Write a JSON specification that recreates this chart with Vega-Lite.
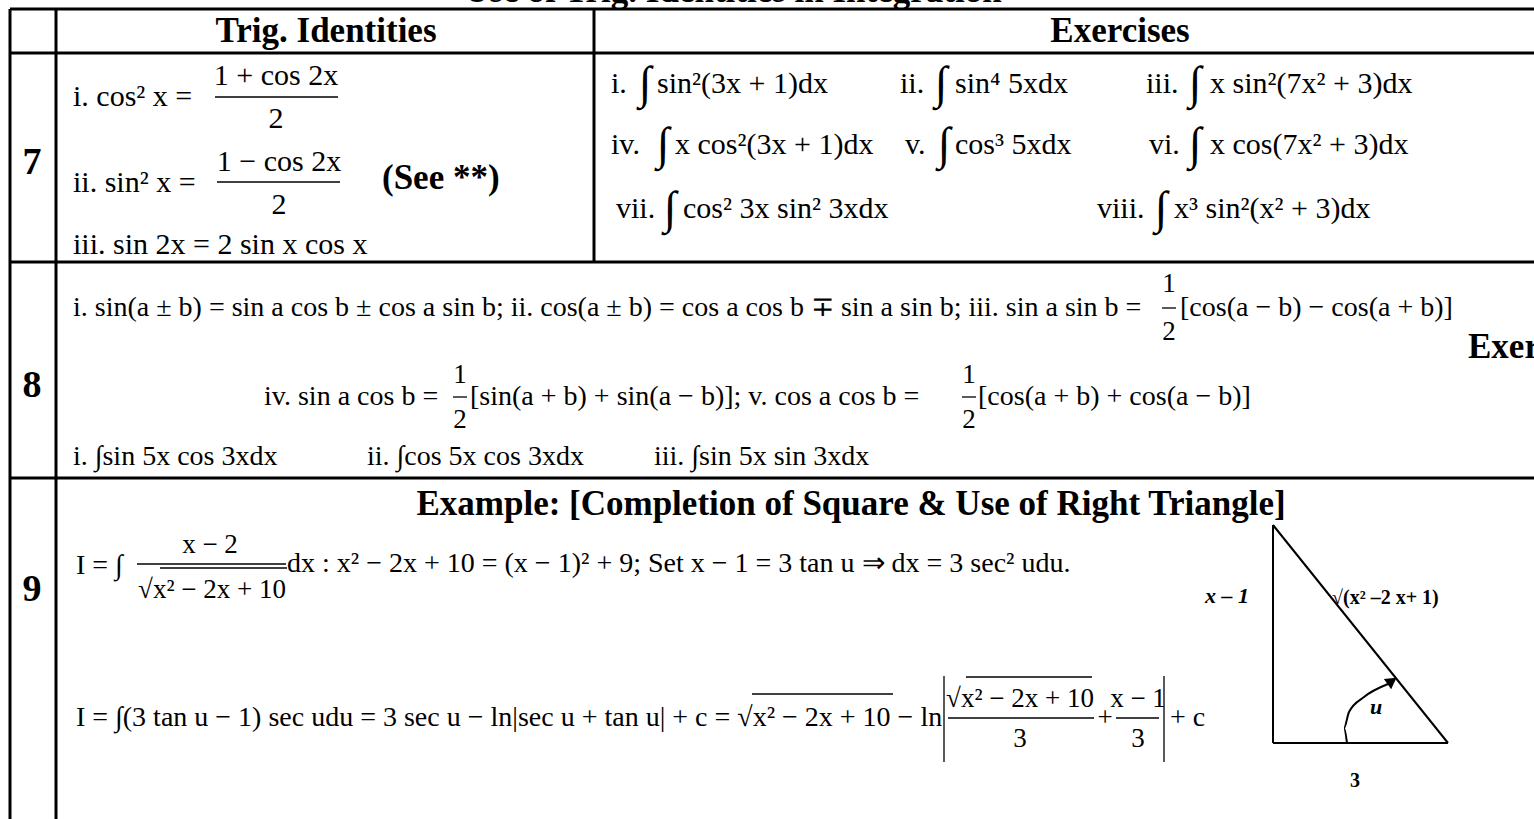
{
  "$schema": "https://vega.github.io/schema/vega-lite/v6.json",
  "width": 1534,
  "height": 819,
  "autosize": {"type": "none"},
  "padding": 0,
  "background": "white",
  "config": {"view": {"stroke": null}},
  "datasets": {
    "lines": [
      {"x": 10, "y": 9, "x2": 1534, "y2": 9, "k": "table"},
      {"x": 10, "y": 53, "x2": 1534, "y2": 53, "k": "table"},
      {"x": 10, "y": 262, "x2": 1534, "y2": 262, "k": "table"},
      {"x": 10, "y": 478, "x2": 1534, "y2": 478, "k": "table"},
      {"x": 10, "y": 9, "x2": 10, "y2": 819, "k": "table"},
      {"x": 56, "y": 9, "x2": 56, "y2": 819, "k": "table"},
      {"x": 594, "y": 9, "x2": 594, "y2": 262, "k": "table"},
      {"x": 215, "y": 97, "x2": 338, "y2": 97, "k": "bar"},
      {"x": 217, "y": 182, "x2": 340, "y2": 182, "k": "bar"},
      {"x": 1162, "y": 308, "x2": 1176, "y2": 308, "k": "bar"},
      {"x": 453, "y": 397, "x2": 467, "y2": 397, "k": "bar"},
      {"x": 962, "y": 397, "x2": 976, "y2": 397, "k": "bar"},
      {"x": 137, "y": 564, "x2": 286, "y2": 564, "k": "bar"},
      {"x": 160, "y": 568, "x2": 287, "y2": 568, "k": "bar"},
      {"x": 752, "y": 694, "x2": 893, "y2": 694, "k": "bar"},
      {"x": 948, "y": 718, "x2": 1094, "y2": 718, "k": "bar"},
      {"x": 966, "y": 677, "x2": 1092, "y2": 677, "k": "bar"},
      {"x": 1116, "y": 718, "x2": 1159, "y2": 718, "k": "bar"},
      {"x": 944, "y": 676, "x2": 944, "y2": 762, "k": "bar"},
      {"x": 1164, "y": 676, "x2": 1164, "y2": 762, "k": "bar"},
      {"x": 1273, "y": 525, "x2": 1273, "y2": 743, "k": "tri"},
      {"x": 1273, "y": 743, "x2": 1448, "y2": 743, "k": "tri"},
      {"x": 1273, "y": 525, "x2": 1448, "y2": 743, "k": "tri"}
    ],
    "arc": [
      {"i": 1, "x": 1347, "y": 743},
      {"i": 2, "x": 1344, "y": 728},
      {"i": 3, "x": 1349, "y": 712},
      {"i": 4, "x": 1364, "y": 697},
      {"i": 5, "x": 1388, "y": 684}
    ],
    "arrow": [{"x": 1392, "y": 681}],
    "texts": [
      {"t": "Use of Trig. Identities in Integration", "x": 733, "y": -9, "k": "head"},
      {"t": "Trig. Identities", "x": 326, "y": 31, "k": "head"},
      {"t": "Exercises", "x": 1120, "y": 31, "k": "head"},
      {"t": "Example: [Completion of Square & Use of Right Triangle]", "x": 851, "y": 504, "k": "head"},
      {"t": "7", "x": 32, "y": 163, "k": "num"},
      {"t": "8", "x": 32, "y": 386, "k": "num"},
      {"t": "9", "x": 32, "y": 590, "k": "num"},
      {"t": "(See **)", "x": 382, "y": 178, "k": "see"},
      {"t": "Exercises", "x": 1468, "y": 347, "k": "see"},
      {"t": "i.  cos² x  =", "x": 73, "y": 97, "k": "f"},
      {"t": "1 + cos 2x", "x": 276, "y": 76, "k": "fc"},
      {"t": "2", "x": 276, "y": 119, "k": "fc"},
      {"t": "ii.  sin² x  =", "x": 73, "y": 183, "k": "f"},
      {"t": "1 − cos 2x", "x": 279, "y": 162, "k": "fc"},
      {"t": "2", "x": 279, "y": 205, "k": "fc"},
      {"t": "iii.  sin 2x = 2 sin x cos x", "x": 73, "y": 245, "k": "f"},
      {"t": "i.", "x": 611, "y": 84, "k": "f"},
      {"t": "∫", "x": 645, "y": 84, "k": "int"},
      {"t": "sin²(3x + 1)dx", "x": 657, "y": 84, "k": "f"},
      {"t": "ii.", "x": 900, "y": 84, "k": "f"},
      {"t": "∫", "x": 941, "y": 84, "k": "int"},
      {"t": "sin⁴ 5xdx", "x": 955, "y": 84, "k": "f"},
      {"t": "iii.", "x": 1146, "y": 84, "k": "f"},
      {"t": "∫", "x": 1195, "y": 84, "k": "int"},
      {"t": "x sin²(7x² + 3)dx", "x": 1210, "y": 84, "k": "f"},
      {"t": "iv.", "x": 611, "y": 145, "k": "f"},
      {"t": "∫", "x": 663, "y": 145, "k": "int"},
      {"t": "x cos²(3x + 1)dx", "x": 675, "y": 145, "k": "f"},
      {"t": "v.", "x": 905, "y": 145, "k": "f"},
      {"t": "∫", "x": 944, "y": 145, "k": "int"},
      {"t": "cos³ 5xdx", "x": 955, "y": 145, "k": "f"},
      {"t": "vi.", "x": 1149, "y": 145, "k": "f"},
      {"t": "∫", "x": 1195, "y": 145, "k": "int"},
      {"t": "x cos(7x² + 3)dx", "x": 1210, "y": 145, "k": "f"},
      {"t": "vii.", "x": 616, "y": 209, "k": "f"},
      {"t": "∫", "x": 670, "y": 209, "k": "int"},
      {"t": "cos² 3x sin² 3xdx", "x": 683, "y": 209, "k": "f"},
      {"t": "viii.", "x": 1097, "y": 209, "k": "f"},
      {"t": "∫", "x": 1161, "y": 209, "k": "int"},
      {"t": "x³ sin²(x² + 3)dx", "x": 1174, "y": 209, "k": "f"},
      {"t": "i.  sin(a ± b) = sin a cos b ± cos a sin b; ii. cos(a ± b) = cos a cos b ∓ sin a sin b; iii. sin a sin b =", "x": 73, "y": 308, "k": "g"},
      {"t": "1", "x": 1169, "y": 284, "k": "gc"},
      {"t": "2", "x": 1169, "y": 332, "k": "gc"},
      {"t": "[cos(a − b) − cos(a + b)]", "x": 1180, "y": 308, "k": "g"},
      {"t": "iv.  sin a cos b =", "x": 264, "y": 397, "k": "g"},
      {"t": "1", "x": 460, "y": 375, "k": "gc"},
      {"t": "2", "x": 460, "y": 420, "k": "gc"},
      {"t": "[sin(a + b) + sin(a − b)];  v.  cos a cos b =", "x": 470, "y": 397, "k": "g"},
      {"t": "1", "x": 969, "y": 375, "k": "gc"},
      {"t": "2", "x": 969, "y": 420, "k": "gc"},
      {"t": "[cos(a + b) + cos(a − b)]", "x": 978, "y": 397, "k": "g"},
      {"t": "i. ∫sin 5x cos 3xdx", "x": 73, "y": 457, "k": "g"},
      {"t": "ii. ∫cos 5x cos 3xdx", "x": 367, "y": 457, "k": "g"},
      {"t": "iii. ∫sin 5x sin 3xdx", "x": 654, "y": 457, "k": "g"},
      {"t": "I = ∫", "x": 76, "y": 566, "k": "g"},
      {"t": "x − 2", "x": 210, "y": 545, "k": "gc"},
      {"t": "√x² − 2x + 10", "x": 212, "y": 590, "k": "gc"},
      {"t": "dx : x² − 2x + 10 = (x − 1)² + 9; Set x − 1 = 3 tan u ⇒ dx = 3 sec² udu.", "x": 287, "y": 564, "k": "g"},
      {"t": "I = ∫(3 tan u − 1) sec udu = 3 sec u − ln|sec u + tan u| + c = √x² − 2x + 10 − ln", "x": 76, "y": 718, "k": "g"},
      {"t": "√x² − 2x + 10", "x": 1020, "y": 699, "k": "gc"},
      {"t": "3", "x": 1020, "y": 739, "k": "gc"},
      {"t": "+", "x": 1105, "y": 718, "k": "gc"},
      {"t": "x − 1", "x": 1138, "y": 699, "k": "gc"},
      {"t": "3", "x": 1138, "y": 739, "k": "gc"},
      {"t": "+ c", "x": 1170, "y": 718, "k": "g"},
      {"t": "x – 1", "x": 1227, "y": 596, "k": "tl"},
      {"t": "√(x² –2 x+ 1)", "x": 1332, "y": 598, "k": "tb"},
      {"t": "u", "x": 1376, "y": 707, "k": "tl"},
      {"t": "3", "x": 1355, "y": 781, "k": "tc"}
    ]
  },
  "encoding": {
    "x": {"field": "x", "type": "quantitative", "axis": null, "scale": {"domain": [0, 1534], "range": [0, 1534], "zero": false, "nice": false}},
    "y": {"field": "y", "type": "quantitative", "axis": null, "scale": {"domain": [0, 819], "range": [0, 819], "zero": false, "nice": false}}
  },
  "layer": [
    {
      "data": {"name": "lines"},
      "transform": [{"filter": "datum.k === 'table'"}],
      "mark": {"type": "rule", "color": "black", "strokeWidth": 3},
      "encoding": {"x2": {"field": "x2"}, "y2": {"field": "y2"}}
    },
    {
      "data": {"name": "lines"},
      "transform": [{"filter": "datum.k === 'bar'"}],
      "mark": {"type": "rule", "color": "black", "strokeWidth": 1.3},
      "encoding": {"x2": {"field": "x2"}, "y2": {"field": "y2"}}
    },
    {
      "data": {"name": "lines"},
      "transform": [{"filter": "datum.k === 'tri'"}],
      "mark": {"type": "rule", "color": "black", "strokeWidth": 2},
      "encoding": {"x2": {"field": "x2"}, "y2": {"field": "y2"}}
    },
    {
      "data": {"name": "arc"},
      "mark": {"type": "line", "color": "black", "strokeWidth": 2, "interpolate": "monotone"},
      "encoding": {"order": {"field": "i", "type": "quantitative"}}
    },
    {
      "data": {"name": "arrow"},
      "mark": {"type": "point", "shape": "triangle-right", "filled": true, "color": "black", "opacity": 1, "size": 160, "angle": -35}
    },
    {
      "data": {"name": "texts"},
      "transform": [{"filter": "datum.k === 'head'"}],
      "mark": {"type": "text", "font": "Liberation Serif", "fontWeight": "bold", "fontSize": 35, "align": "center", "baseline": "middle", "color": "black"},
      "encoding": {"text": {"field": "t"}}
    },
    {
      "data": {"name": "texts"},
      "transform": [{"filter": "datum.k === 'num'"}],
      "mark": {"type": "text", "font": "Liberation Serif", "fontWeight": "bold", "fontSize": 38, "align": "center", "baseline": "middle", "color": "black"},
      "encoding": {"text": {"field": "t"}}
    },
    {
      "data": {"name": "texts"},
      "transform": [{"filter": "datum.k === 'see'"}],
      "mark": {"type": "text", "font": "Liberation Serif", "fontWeight": "bold", "fontSize": 35, "align": "left", "baseline": "middle", "color": "black"},
      "encoding": {"text": {"field": "t"}}
    },
    {
      "data": {"name": "texts"},
      "transform": [{"filter": "datum.k === 'f'"}],
      "mark": {"type": "text", "font": "Liberation Serif", "fontSize": 30, "align": "left", "baseline": "middle", "color": "black"},
      "encoding": {"text": {"field": "t"}}
    },
    {
      "data": {"name": "texts"},
      "transform": [{"filter": "datum.k === 'fc'"}],
      "mark": {"type": "text", "font": "Liberation Serif", "fontSize": 30, "align": "center", "baseline": "middle", "color": "black"},
      "encoding": {"text": {"field": "t"}}
    },
    {
      "data": {"name": "texts"},
      "transform": [{"filter": "datum.k === 'int'"}],
      "mark": {"type": "text", "font": "Liberation Serif", "fontSize": 46, "align": "center", "baseline": "middle", "color": "black"},
      "encoding": {"text": {"field": "t"}}
    },
    {
      "data": {"name": "texts"},
      "transform": [{"filter": "datum.k === 'g'"}],
      "mark": {"type": "text", "font": "Liberation Serif", "fontSize": 28, "align": "left", "baseline": "middle", "color": "black"},
      "encoding": {"text": {"field": "t"}}
    },
    {
      "data": {"name": "texts"},
      "transform": [{"filter": "datum.k === 'gc'"}],
      "mark": {"type": "text", "font": "Liberation Serif", "fontSize": 27, "align": "center", "baseline": "middle", "color": "black"},
      "encoding": {"text": {"field": "t"}}
    },
    {
      "data": {"name": "texts"},
      "transform": [{"filter": "datum.k === 'tl'"}],
      "mark": {"type": "text", "font": "Liberation Serif", "fontWeight": "bold", "fontStyle": "italic", "fontSize": 22, "align": "center", "baseline": "middle", "color": "black"},
      "encoding": {"text": {"field": "t"}}
    },
    {
      "data": {"name": "texts"},
      "transform": [{"filter": "datum.k === 'tb'"}],
      "mark": {"type": "text", "font": "Liberation Serif", "fontWeight": "bold", "fontSize": 20, "align": "left", "baseline": "middle", "color": "black"},
      "encoding": {"text": {"field": "t"}}
    },
    {
      "data": {"name": "texts"},
      "transform": [{"filter": "datum.k === 'tc'"}],
      "mark": {"type": "text", "font": "Liberation Serif", "fontWeight": "bold", "fontSize": 20, "align": "center", "baseline": "middle", "color": "black"},
      "encoding": {"text": {"field": "t"}}
    }
  ]
}
